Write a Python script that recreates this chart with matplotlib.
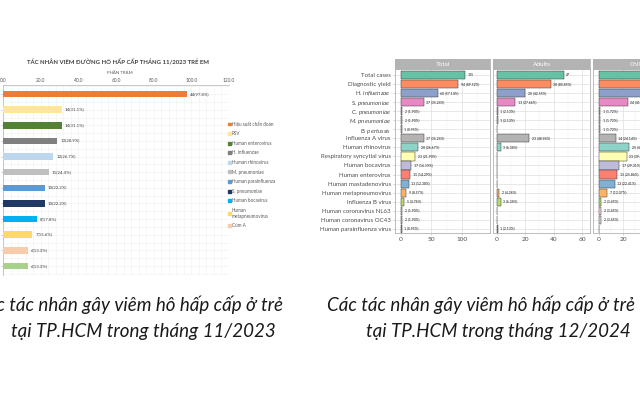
import matplotlib
matplotlib.use("Agg")
import matplotlib.pyplot as plt
from matplotlib.patches import Rectangle
from matplotlib.ticker import MultipleLocator
import numpy as np

# ---------------- data: left chart (11/2023, children) ----------------
left_title = "TÁC NHÂN VIÊM ĐƯỜNG HÔ HẤP CẤP THÁNG 11/2023 TRẺ EM"
left_axis_label = "PHẦN TRĂM"
left_categories = ["Hiệu suất chẩn đoán", "RSV", "Human enterovirus", "H. influenzae",
                   "Human rhinovirus", "M. pneumoniae", "Human parainfluenza",
                   "S. pneumoniae", "Human bocavirus", "Human\nmetapneumovirus",
                   "Cúm A", "Khác"]
left_counts = [44, 14, 14, 13, 12, 11, 10, 10, 8, 7, 6, 6]
left_pct = [97.8, 31.1, 31.1, 28.9, 26.7, 24.4, 22.2, 22.2, 17.8, 15.6, 13.3, 13.3]
left_ticks = [0, 20, 40, 60, 80, 100, 120]
left_legend_n = 11
left_colors = ["#ED7D31", "#FFE699", "#548235", "#7F7F7F", "#BDD7EE", "#BFBFBF",
               "#5B9BD5", "#1F3864", "#00B0F0", "#FFD966", "#F8CBAD", "#A9D18E"]

# ---------------- data: right chart (12/2024) ----------------
right_categories = ["Total cases", "Diagnostic yield", "H. $\\mathit{influenzae}$",
                    "S. $\\mathit{pneumoniae}$", "C. $\\mathit{pneumoniae}$",
                    "M. $\\mathit{pneumoniae}$", "B. $\\mathit{pertussis}$",
                    "Influenza A virus", "Human rhinovirus", "Respiratory syncytial virus",
                    "Human bocavirus", "Human enterovirus", "Human mastadenovirus",
                    "Human metapneumovirus", "Influenza B virus", "Human coronavirus NL63",
                    "Human coronavirus OC43", "Human parainfluenza virus"]
total_counts = [105, 94, 60, 37, 2, 2, 1, 37, 28, 23, 17, 15, 13, 9, 5, 2, 2, 1]
adult_counts = [47, 38, 20, 13, 1, 1, 0, 23, 3, 0, 0, 0, 0, 2, 3, 0, 0, 1]
child_counts = [58, 56, 40, 24, 1, 1, 1, 14, 25, 23, 17, 15, 13, 7, 2, 2, 2, 0]
facet_names = ["Total", "Adults", "Children"]
facet_ticks = [[0, 50, 100], [0, 20, 40, 60], [0, 20, 40, 60]]
right_colors = ["#66C2A5", "#FC8D62", "#8DA0CB", "#E78AC3", "#A6D854", "#FFD92F",
                "#E5C494", "#B3B3B3", "#8DD3C7", "#FFFFB3", "#BEBADA", "#FB8072",
                "#80B1D3", "#FDB462", "#B3DE69", "#FCCDE5", "#D9D9D9", "#BC80BD"]

caption_left = ["Các tác nhân gây viêm hô hấp cấp ở trẻ", "tại TP.HCM trong tháng 11/2023"]
caption_right = ["Các tác nhân gây viêm hô hấp cấp ở trẻ", "tại TP.HCM trong tháng 12/2024"]

# ---------------- figure ----------------
plt.rcParams["font.family"] = ["Lato", "DejaVu Sans"]
plt.rcParams["mathtext.fontset"] = "custom"
plt.rcParams["mathtext.rm"] = "Lato"
plt.rcParams["mathtext.it"] = "Lato:italic"

W, H = 640, 400
fig = plt.figure(figsize=(6.4, 4.0), dpi=100)
fig.patch.set_facecolor("white")


def rect(x0, y0, x1, y1):
    return [x0 / W, 1 - y1 / H, (x1 - x0) / W, (y1 - y0) / H]


# ---------- left chart ----------
axL = fig.add_axes(rect(3, 85, 229, 275))
nL = len(left_pct)
yL = np.arange(nL)
axL.barh(yL, left_pct, height=0.42, color=left_colors, zorder=3)
axL.set_xlim(0, 120)
axL.set_ylim(nL - 0.42, -0.58)
axL.xaxis.tick_top()
axL.set_xticks(left_ticks)
axL.set_xticklabels([f"{v:.1f}" for v in left_ticks], fontsize=3.4, color="#595959")
axL.tick_params(axis="x", length=0, pad=1.2)
axL.set_yticks(yL)
axL.set_yticklabels([])
axL.tick_params(axis="y", length=1.5, width=0.4, color="#A6A6A6")
axL.xaxis.set_minor_locator(MultipleLocator(4))
axL.yaxis.set_minor_locator(MultipleLocator(0.5))
axL.tick_params(which="minor", length=0)
axL.grid(True, which="both", color="#EFEFEF", linewidth=0.4, zorder=0)
for s in ["right", "bottom"]:
    axL.spines[s].set_visible(False)
for s in ["top", "left"]:
    axL.spines[s].set_color("#BFBFBF")
    axL.spines[s].set_linewidth(0.6)
for i, (c, p) in enumerate(zip(left_counts, left_pct)):
    axL.text(p + 1.6, i, f"{c}({p}%)", fontsize=3.2, va="center", ha="left",
             color="#404040", zorder=4)

fig.text(118 / W, 1 - 62 / H, left_title, ha="center", va="center", fontsize=4.3,
         fontweight="bold", color="#404040")
fig.text(120 / W, 1 - 73 / H, left_axis_label, ha="center", va="center",
         fontsize=3.2, color="#595959")

handles = [Rectangle((0, 0), 1, 1, color=c) for c in left_colors[:left_legend_n]]
leg = fig.legend(handles, left_categories[:left_legend_n], loc="upper left",
                 bbox_to_anchor=(228 / W, 1 - 121 / H), bbox_transform=fig.transFigure,
                 fontsize=3.3, frameon=False, handlelength=0.6, handleheight=0.6,
                 handletextpad=0.3, labelspacing=1.0, borderpad=0, borderaxespad=0)
for t in leg.get_texts():
    t.set_color("#595959")

# ---------- right chart (facets) ----------
facet_x = [(395, 490), (493, 590), (593, 690)]
facet_xlim = [(-9.8, 145.9), (-2.5, 65.6), (-5.0, 75.8)]
facet_data = [total_counts, adult_counts, child_counts]
nR = len(right_categories)
yR = np.arange(nR)
for k, (name, vals) in enumerate(zip(facet_names, facet_data)):
    x0, x1 = facet_x[k]
    ax = fig.add_axes(rect(x0, 69, x1, 233))
    ax.barh(yR, vals, height=0.9, color=right_colors, edgecolor="#3A3A3A",
            linewidth=0.35, zorder=3)
    ax.set_xlim(*facet_xlim[k])
    ax.set_ylim(nR - 0.55, -0.65)
    ax.set_xticks(facet_ticks[k])
    ax.set_xticklabels([str(t) for t in facet_ticks[k]], fontsize=4.6, color="#4D4D4D")
    step = facet_ticks[k][1] - facet_ticks[k][0]
    ax.xaxis.set_minor_locator(MultipleLocator(step / 2))
    ax.tick_params(axis="x", length=1.5, width=0.4, color="#B3B3B3", pad=1.5)
    ax.tick_params(which="minor", length=0)
    ax.set_yticks(yR)
    if k == 0:
        ax.set_yticklabels(right_categories, fontsize=4.4, color="#4D4D4D")
        ax.tick_params(axis="y", length=1.5, width=0.4, color="#B3B3B3", pad=1.5)
    else:
        ax.set_yticklabels([])
        ax.tick_params(axis="y", length=0)
    ax.grid(True, which="major", color="#DEDEDE", linewidth=0.5, zorder=0)
    ax.grid(True, which="minor", axis="x", color="#EFEFEF", linewidth=0.3, zorder=0)
    for s in ax.spines.values():
        s.set_color("#B3B3B3")
        s.set_linewidth(0.6)
    n_tot = vals[0]
    ppu = (x1 - x0) / (facet_xlim[k][1] - facet_xlim[k][0])
    for i, v in enumerate(vals):
        if v <= 0:
            continue
        lab = str(v) if i == 0 else f"{v} ({100 * v / n_tot:.2f}%)"
        ax.text(v + 2.5 / ppu, i, lab, fontsize=2.5, va="center", ha="left",
                color="#1A1A1A", zorder=4, clip_on=False)
    # strip
    sx = fig.add_axes(rect(x0, 59, x1, 69))
    sx.set_facecolor("#B3B3B3")
    sx.set_xticks([])
    sx.set_yticks([])
    for s in sx.spines.values():
        s.set_color("#B3B3B3")
        s.set_linewidth(0.6)
    sx.text(0.5, 0.5, name, transform=sx.transAxes, ha="center", va="center",
            fontsize=4.6, color="white")

# ---------- captions ----------
cap_kw = dict(fontsize=13.5, style="italic", color="#1A1A1A", va="center",
              family=["Lato", "DejaVu Sans"])
fig.text(283 / W, 1 - 305 / H, caption_left[0], ha="right", **cap_kw)
fig.text(143 / W, 1 - 331 / H, caption_left[1], ha="center", **cap_kw)
fig.text(327 / W, 1 - 305 / H, caption_right[0], ha="left", **cap_kw)
fig.text(498 / W, 1 - 331 / H, caption_right[1], ha="center", **cap_kw)

fig.savefig("out.png", dpi=100, facecolor="white")
